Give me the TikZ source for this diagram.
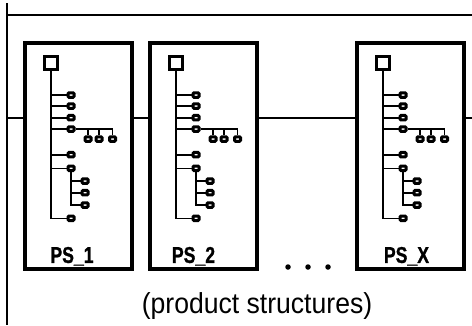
\documentclass[tikz,border=0pt]{standalone}
\usepackage{fontspec}
\setmainfont{Liberation Sans}
\newfontfamily\psfont{Liberation Sans}[BoldFeatures={FakeBold=1.2}]
\usetikzlibrary{positioning}
\begin{document}
\begin{tikzpicture}[x=1bp,y=-1bp,
  wire/.style={line width=1.5bp},
  branch/.style={line width=1.6bp},
  psbox/.style={draw,line width=3.8bp,fill=white,minimum width=107bp,minimum height=226bp,inner sep=0pt},
  rootbox/.style={draw,line width=3.2bp,fill=white,minimum width=12.5bp,minimum height=12.5bp,inner sep=0pt},
  leaf/.style={draw,line width=3bp,fill=white,rounded corners=1bp,minimum width=6bp,minimum height=4.5bp,inner sep=0pt},
  pslabel/.style={font=\psfont\bfseries\fontsize{23}{23}\selectfont,xscale=0.77,anchor=base},
  dot/.style={circle,fill=black,minimum size=5.5bp,inner sep=0pt},
  pics/pstree/.style={code={
    \node[rootbox] (-root) at (0,0) {};
    \foreach \i/\dy in {1/32,2/43,3/54.7,4/66,5/91.7,6/105.3,7/155.3}{
      \draw[branch] (-root.south) |- (20,\dy);
      \node[leaf] (-c\i) at (20,\dy) {};}
    \foreach \i/\dx in {1/37,2/48,3/61.5}{
      \node[leaf] (-g\i) at (\dx,76) {};
      \draw[branch] (-c4.east) -| (-g\i.north);}
    \foreach \i/\dy in {1/118,2/129.7,3/142}{
      \node[leaf] (-h\i) at (34,\dy) {};
      \draw[branch] (-c6.south) |- (-h\i.west);}
  }}]
\useasboundingbox (0,0) rectangle (472,325);
% frame lines
\coordinate (topl) at (7,3);
\coordinate (botl) at (7,325);
\coordinate (busl) at (7,15);
\coordinate (busr) at (472,15);
\coordinate (midl) at (7,118);
\coordinate (midr) at (472,118);
\draw[wire] (topl) -- (botl);
\draw[wire] (busl) -- (busr);
% product structure boxes
\node[psbox] (ps1) at (78.5,156) {};
\node[psbox] (ps2) at (203.5,156) {};
\node[psbox] (psx) at (410.5,156) {};
\draw[wire] (midl) -- (midl -| ps1.west);
\draw[wire] (ps1.east |- midl) -- (ps2.west |- midl);
\draw[wire] (ps2.east |- midl) -- (psx.west |- midl);
\draw[wire] (psx.east |- midl) -- (midr);
\foreach \b/\t/\s in {ps1/PS\_1/-6.5,ps2/PS\_2/-10,psx/PS\_X/-4}{
  \pic (\b t) at ([xshift=-27.5bp,yshift=93bp]\b.center) {pstree};
  \node[pslabel] (\b lbl) at ([xshift=\s bp,yshift=8bp]\b.south) {\t};}
% dots and caption
\node[dot] (dot1) at (288,267) {};
\node[dot] (dot2) at (308,267) {};
\node[dot] (dot3) at (328,267) {};
\node[font=\fontsize{29}{29}\selectfont,xscale=0.92] (caption) at (257,306) {(product structures)};
\end{tikzpicture}
\end{document}
